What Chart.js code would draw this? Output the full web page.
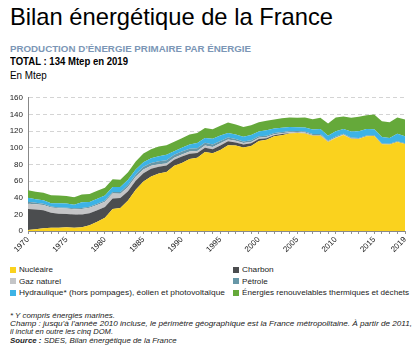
<!DOCTYPE html>
<html><head><meta charset="utf-8">
<script src="https://cdn.jsdelivr.net/npm/chart.js@4.4.1/dist/chart.umd.min.js"></script>
<style>
body{margin:0;width:418px;height:353px;overflow:hidden;background:#fff;font-family:"Liberation Sans",Arial,Helvetica,sans-serif;color:#000;position:relative}
.t{position:absolute;white-space:nowrap;line-height:1;transform-origin:0 0}
.sw{position:absolute;width:6px;height:6px}
#wrap{position:absolute;left:0;top:88px;width:418px;height:168px}
</style></head><body>
<div id="wrap"><canvas id="c" width="418" height="168"></canvas></div>
<script>
// ---- Data (Mtep) ----
const years = ['1970','1971','1972','1973','1974','1975','1976','1977','1978','1979',
  '1980','1981','1982','1983','1984','1985','1986','1987','1988','1989',
  '1990','1991','1992','1993','1994','1995','1996','1997','1998','1999',
  '2000','2001','2002','2003','2004','2005','2006','2007','2008','2009',
  '2010','2011','2012','2013','2014','2015','2016','2017','2018','2019'];
const tickLabels = ['1970','1975','1980','1985','1990','1995','2000','2005','2010','2015','2019'];
const nucleaire = [1.3,2.1,3.3,3.8,3.9,4.5,4.0,4.5,7.0,11.0,
  15.8,26.5,27.6,36.5,49.5,59.5,65.5,69.0,71.0,78.3,
  81.7,86.6,87.9,95.0,93.5,97.4,103.0,102.6,100.4,102.0,
  108.2,109.7,113.8,115.1,117.0,117.7,117.2,114.5,114.5,107.0,
  111.7,115.3,110.9,110.4,113.7,114.0,104.2,103.8,107.0,104.5];
const charbon = [25.2,23.6,21.5,18.0,16.8,16.0,15.9,15.4,14.4,13.9,
  13.1,12.5,11.9,11.3,11.0,10.0,9.4,8.3,7.6,7.2,
  7.7,6.3,5.9,4.9,4.8,5.2,4.8,3.7,3.4,3.4,
  2.3,1.7,1.1,1.3,0.4,0.2,0.1,0.1,0.1,0.1,
  0.1,0.1,0.1,0,0,0,0,0,0,0];
const gaz = [6.3,6.4,6.5,6.3,6.5,6.5,6.2,6.6,6.5,6.4,
  6.3,5.9,5.3,5.2,4.7,4.4,3.5,2.9,2.6,2.6,
  2.5,2.7,2.4,2.9,2.7,2.8,2.1,2.0,1.8,1.6,
  1.5,1.5,1.3,1.1,1.1,0.9,1.0,0.8,0.8,0.7,
  0.6,0.5,0.4,0.3,0,0,0,0,0,0];
const petrole = [2.3,1.9,1.5,1.3,1.1,1.0,1.1,1.1,1.2,1.3,
  1.4,1.8,2.0,2.5,2.7,3.3,3.3,3.6,3.7,3.4,
  3.5,3.3,3.2,3.1,2.9,2.8,2.3,2.1,2.0,1.9,
  1.7,1.6,1.5,1.4,1.3,1.2,1.1,1.0,1.1,1.0,
  1.0,1.0,1.0,0.9,0.9,0.9,0.8,0.9,0.9,0.8];
const hydraulique = [4.9,4.0,4.2,4.0,4.9,5.0,4.3,6.9,5.8,6.2,
  6.0,6.3,6.1,6.2,5.9,5.4,5.6,6.1,6.7,4.3,
  4.6,5.1,6.3,5.7,6.9,6.4,5.6,5.5,5.6,6.3,
  5.8,6.6,5.3,5.1,5.1,4.5,5.0,5.4,6.0,5.7,
  6.4,5.6,7.2,8.2,7.9,7.4,7.8,7.0,8.8,8.4];
const enrThermiques = [9.0,9.0,8.8,9.4,9.3,9.0,9.0,9.3,9.5,9.5,
  9.5,9.3,8.7,9.0,9.8,10.5,11.0,11.5,11.5,11.5,
  11.5,12.0,12.0,12.0,11.5,11.8,12.5,12.0,11.8,11.8,
  11.0,11.2,11.0,11.3,11.3,11.5,11.8,12.5,13.5,14.5,
  16.5,15.0,16.5,17.5,16.5,17.5,19.0,19.0,19.5,20.3];
const seriesNames = ['Nucléaire','Charbon','Gaz naturel','Pétrole',
  'Hydraulique* (hors pompages), éolien et photovoltaïque','Énergies renouvelables thermiques et déchets'];
const seriesValues = [nucleaire, charbon, gaz, petrole, hydraulique, enrThermiques];
const seriesColors = ['#FAD21E','#4B4D4F','#C4C5C7','#6797A7','#3DB3E6','#65A93A'];

// ---- Text helper ----
function place(html, x, baseline, size, opts) {
  opts = opts || {};
  const d = document.createElement('div');
  d.className = 't';
  d.innerHTML = html;
  d.style.left = x + 'px';
  d.style.top = (baseline - 0.8465 * size) + 'px';
  d.style.fontSize = size + 'px';
  if (opts.bold) d.style.fontWeight = 'bold';
  if (opts.italic) d.style.fontStyle = 'italic';
  if (opts.color) d.style.color = opts.color;
  document.body.appendChild(d);
  if (opts.w) {
    const w = d.getBoundingClientRect().width;
    let s = opts.w / w;
    if (s < 0.85) s = 0.85; if (s > 1.15) s = 1.15;
    d.style.transform = 'scaleX(' + s + ')';
  }
  return d;
}

place('Bilan énergétique de la France', 9.5, 25, 24, {w: 323});
place('PRODUCTION D’ÉNERGIE PRIMAIRE PAR ÉNERGIE', 10, 52.7, 9.7, {bold: true, color: '#7B96B6', w: 241});
place('TOTAL : 134 Mtep en 2019', 10, 65.7, 10, {bold: true, w: 118});
place('En Mtep', 10, 79.3, 10, {w: 36.7});

// legend
const legX = [10, 233];
const legBase = [272.7, 284.3, 296];
const legW = [34, 31.7, 42, 25.7, 206, 167];
seriesNames.forEach((n, i) => {
  const col = i % 2, row = Math.floor(i / 2);
  const sw = document.createElement('div');
  sw.className = 'sw';
  sw.style.left = legX[col] + 'px';
  sw.style.top = (legBase[row] - 6.2) + 'px';
  sw.style.background = seriesColors[i];
  document.body.appendChild(sw);
  place(n, legX[col] + 9, legBase[row], 8, {color: '#222', w: legW[i]});
});

// notes
place('* Y compris énergies marines.', 10, 318.3, 8, {italic: true, color: '#222', w: 105});
place('Champ : jusqu’à l’année 2010 incluse, le périmètre géographique est la France métropolitaine. À partir de 2011,', 10, 326.8, 8, {italic: true, color: '#222', w: 402});
place('il inclut en outre les cinq DOM.', 10, 335.2, 8, {italic: true, color: '#222', w: 103});
place('<b>Source :</b> SDES, Bilan énergétique de la France', 10, 343.7, 8, {italic: true, color: '#222', w: 166.7});

// ---- Chart ----
const datasets = seriesValues.map((vals, i) => ({
  label: seriesNames[i],
  data: vals,
  backgroundColor: seriesColors[i],
  borderColor: seriesColors[i],
  borderWidth: 0,
  pointRadius: 0,
  tension: 0,
  fill: i === 0 ? 'origin' : '-1'
}));

new Chart(document.getElementById('c'), {
  type: 'line',
  data: { labels: years, datasets },
  options: {
    responsive: false,
    devicePixelRatio: 1,
    animation: false,
    layout: { padding: { top: 8, right: 13, left: 0, bottom: 0 } },
    plugins: { legend: { display: false }, tooltip: { enabled: false } },
    scales: {
      x: {
        type: 'category',
        offset: false,
        grid: { display: true, drawOnChartArea: false, drawTicks: true, tickLength: 3, color: '#777', lineWidth: 0.8 },
        border: { display: true, color: '#888', width: 1 },
        ticks: {
          autoSkip: false, minRotation: 45, maxRotation: 45, padding: 1,
          color: '#222', font: { size: 8, family: '"Liberation Sans", Arial, sans-serif' },
          callback: function(v) { const l = this.getLabelForValue(v); return tickLabels.includes(l) ? l : ''; }
        },
        afterFit: s => { s.height = 25; }
      },
      y: {
        stacked: true,
        min: 0, max: 160,
        ticks: { stepSize: 20, padding: 5, color: '#222', font: { size: 8, family: '"Liberation Sans", Arial, sans-serif' } },
        grid: { drawTicks: false, color: ctx => ctx.tick && ctx.tick.value === 0 ? 'rgba(0,0,0,0)' : '#D4D4D4', lineWidth: 1 },
        border: { display: true, color: '#888', width: 1, dash: [4, 3] },
        afterFit: s => { s.width = 28; }
      }
    }
  }
});
</script>
</body></html>
